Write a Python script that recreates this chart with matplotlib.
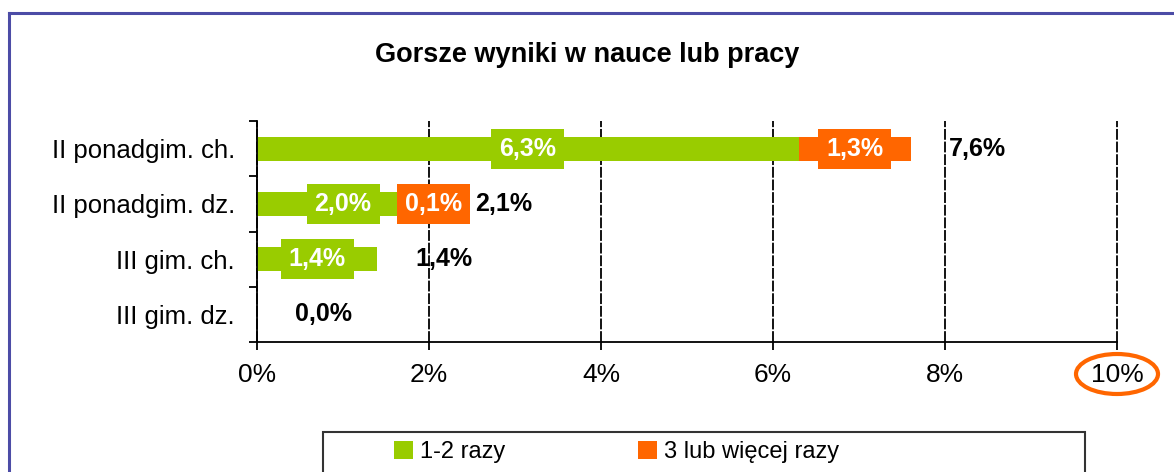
import matplotlib
matplotlib.use("Agg")
import matplotlib.pyplot as plt
from matplotlib.patches import Patch, Rectangle, Ellipse
from matplotlib.lines import Line2D

plt.rcParams['font.family'] = ['Liberation Sans', 'DejaVu Sans']

# dane z wykresu (od gornego wiersza)
kategorie = ["II ponadgim. ch.", "II ponadgim. dz.", "III gim. ch.", "III gim. dz."]
raz_dwa = [6.3, 2.0, 1.4, 0.0]
trzy_wiecej = [1.3, 0.1, 0.0, 0.0]
razem = [7.6, 2.1, 1.4, 0.0]
nazwy_serii = ["1-2 razy", "3 lub więcej razy"]
ticki_x = [0, 2, 4, 6, 8, 10]

ZIELONY = "#99cc00"
POMARANCZ = "#ff6600"

W, H = 1174, 472
fig = plt.figure(figsize=(W / 100, H / 100), dpi=100)


def px(x, y):
    # piksele (od lewej-gory) -> wspolrzedne figury
    return x / W, 1 - y / H


def fmt(v):
    return f"{v:.1f}".replace(".", ",") + "%"


# ramka wykresu (niebieska)
fig.add_artist(Line2D([9 / W, 1], [1 - 13 / H] * 2, color="#4c4ca6", lw=2.2))
fig.add_artist(Line2D([9 / W] * 2, [0, 1 - 13 / H], color="#4c4ca6", lw=2.2))

fig.text(0.5, 1 - 55 / H, "Gorsze wyniki w nauce lub pracy", ha="center", va="center",
         fontsize=19.5, fontweight="bold")

ax = fig.add_axes([257 / W, 1 - 342 / H, (1117 - 257) / W, (342 - 121) / H])
y = list(range(len(kategorie)))

ax.barh(y, raz_dwa, height=0.43, color=ZIELONY)
ax.barh(y, trzy_wiecej, left=raz_dwa, height=0.43, color=POMARANCZ)

for i in y:
    if raz_dwa[i] > 0:
        ax.text(raz_dwa[i] / 2, i, fmt(raz_dwa[i]), ha="center", va="center", color="white",
                fontsize=18, fontweight="bold",
                bbox=dict(boxstyle="square,pad=0.32", fc=ZIELONY, ec="none"))
    if trzy_wiecej[i] > 0:
        ax.text(raz_dwa[i] + trzy_wiecej[i] / 2, i, fmt(trzy_wiecej[i]), ha="center", va="center",
                color="white", fontsize=18, fontweight="bold",
                bbox=dict(boxstyle="square,pad=0.32", fc=POMARANCZ, ec="none"))
    ax.text(razem[i] + 0.44, i, fmt(razem[i]), ha="left", va="center", color="black",
            fontsize=18, fontweight="bold")

ax.set_xlim(0, 10)
ax.set_ylim(len(kategorie) - 0.5, -0.5)
ax.set_xticks(ticki_x)
ax.set_xticklabels([f"{t}%" for t in ticki_x], fontsize=19)
ax.set_yticks(y)
ax.set_yticklabels(kategorie, fontsize=18.5)
ax.set_yticks([k - 0.5 for k in range(len(kategorie) + 1)], minor=True)
ax.tick_params(axis="y", which="major", length=0, pad=16)
ax.tick_params(axis="y", which="minor", length=6, width=1.3, direction="out")
ax.tick_params(axis="x", length=6, width=1.3, direction="out", pad=9)
ax.grid(axis="x", color="black", linestyle=(0, (6, 1)), linewidth=1.3)
for g in ax.xaxis.get_gridlines():
    g.set_clip_on(False)
ax.set_axisbelow(True)
for s in ["top", "right"]:
    ax.spines[s].set_visible(False)
for s in ["left", "bottom"]:
    ax.spines[s].set_linewidth(1.3)

# kolko wokol 10%
cx, cy = px(1117, 374)
fig.add_artist(Ellipse((cx, cy), 82 / W, 40 / H, fill=False, ec=POMARANCZ, lw=3))

# legenda
x0, y0 = px(323, 432)
x1, y1 = px(1085, 485)
fig.add_artist(Rectangle((x0, y1), x1 - x0, y0 - y1, fill=False, ec="#333333", lw=1.5))
uchwyty = [Patch(fc=ZIELONY, ec="none"), Patch(fc=POMARANCZ, ec="none")]
fig.legend(uchwyty, nazwy_serii, loc="center left", bbox_to_anchor=px(385, 452), ncol=2,
           frameon=False, fontsize=17, handlelength=0.8, handleheight=0.8,
           handletextpad=0.3, columnspacing=5.6, borderaxespad=0)

fig.savefig("out.png", dpi=100)
